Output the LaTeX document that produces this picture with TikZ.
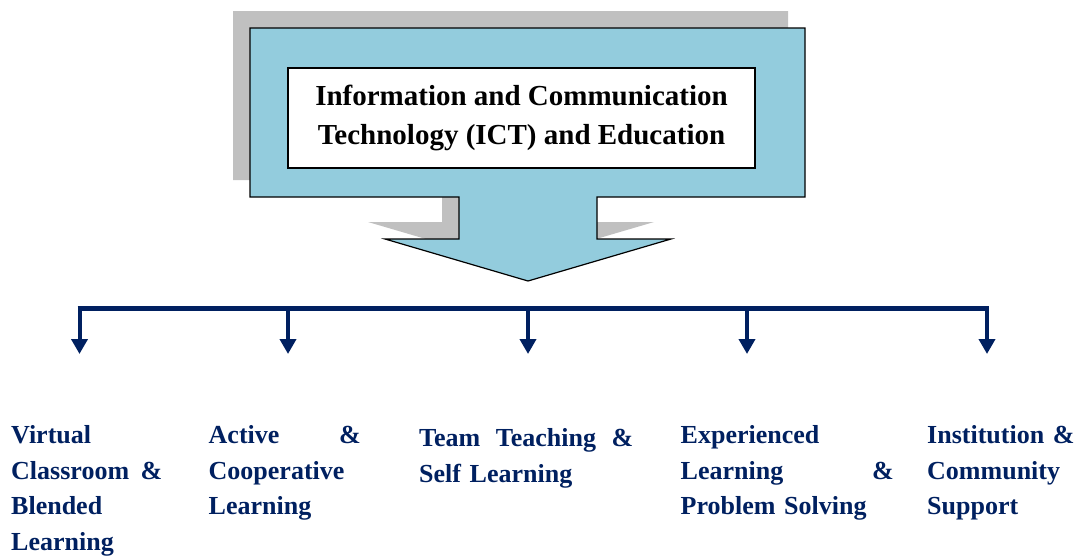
\documentclass[tikz,border=0pt]{standalone}
\usepackage{fontspec}
\setmainfont{Liberation Serif}
\usetikzlibrary{arrows.meta}
\definecolor{navy}{RGB}{0,32,96}
\definecolor{calloutblue}{RGB}{147,204,221}
\definecolor{shadowgray}{RGB}{192,192,192}
\newcommand\justline[2]{\leavevmode\hbox to #1{#2}}
\begin{document}
\begin{tikzpicture}[x=1pt,y=-1pt,
  lbl/.style={anchor=base west, inner sep=0pt, text=navy, align=left,
    font=\fontsize{26}{35.7}\selectfont\bfseries},
  dropline/.style={draw=navy, line width=4pt, -{Triangle[width=16pt,length=15pt]}},
  barline/.style={draw=navy, line width=5pt},
  callout/.style={fill=calloutblue, draw=black, line width=1.2pt, line join=miter},
  calloutshadow/.style={fill=shadowgray},
  titlebox/.style={draw=black, line width=1.2pt, fill=white, minimum width=467pt,
    minimum height=100pt, inner sep=0pt, align=center,
    font=\fontsize{29}{39}\selectfont\bfseries}]
\useasboundingbox (0,0) rectangle (1081,555);
% shadow of the callout arrow
\fill[calloutshadow, shift={(-17,-17)}] (250,28) -- (805,28) -- (805,197) -- (597,197) -- (597,239) -- (671,239) -- (528,281) -- (385,239) -- (459,239) -- (459,197) -- (250,197) -- cycle;
% callout arrow
\draw[callout] (250,28) -- (805,28) -- (805,197) -- (597,197) -- (597,239) -- (671,239) -- (528,281) -- (385,239) -- (459,239) -- (459,197) -- (250,197) -- cycle;
\node[titlebox] (title) at (521.5,118) {Information and Communication\\Technology (ICT) and Education};
% bar and drops
\coordinate (b1) at (79.5,308);
\coordinate (b2) at (288,308);
\coordinate (b3) at (528,308);
\coordinate (b4) at (747,308);
\coordinate (b5) at (987,308);
\coordinate (e1) at (79.5,354);
\coordinate (e2) at (288,354);
\coordinate (e3) at (528,354);
\coordinate (e4) at (747,354);
\coordinate (e5) at (987,354);
\draw[barline] ([xshift=-2pt]b1) -- ([xshift=2pt]b5);
\foreach \i in {1,...,5} \draw[dropline] (b\i) -- (e\i);
% labels
\node[lbl, text width=152pt] (l1) at (11,443.5) {Virtual\\\justline{151pt}{Classroom\hfill\&}\\Blended\\Learning};
\node[lbl, text width=153pt] (l2) at (208.5,443.5) {\justline{152pt}{Active\hfill\&}\\Cooperative\\Learning};
\node[lbl, text width=215pt] (l3) at (419,446.5) {\justline{214pt}{Team\hfill Teaching\hfill\&}\\Self Learning};
\node[lbl, text width=214pt] (l4) at (680.5,443.5) {Experienced\\\justline{213pt}{Learning\hfill\&}\\Problem Solving};
\node[lbl, text width=150pt] (l5) at (927,443.5) {Institution \&\\Community\\Support};
\end{tikzpicture}
\end{document}
